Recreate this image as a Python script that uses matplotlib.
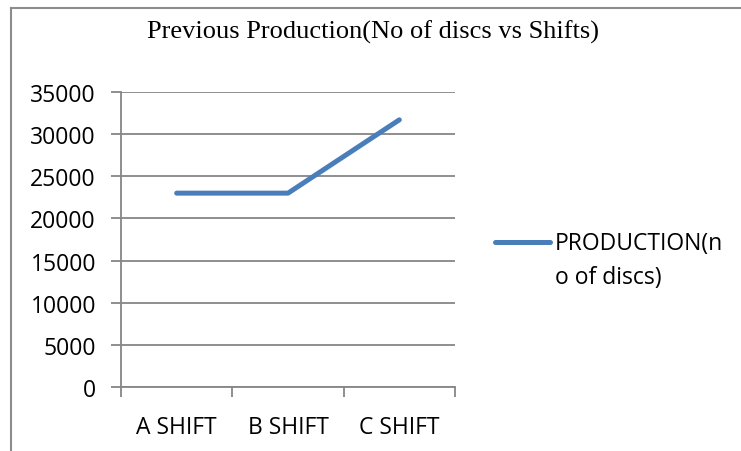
import matplotlib.pyplot as plt
from matplotlib.lines import Line2D

shifts = ['A SHIFT', 'B SHIFT', 'C SHIFT']
production = [23000, 23000, 31700]
series_name = 'PRODUCTION(n\no of discs)'
title = 'Previous Production(No of discs vs Shifts)'
yticks = [0, 5000, 10000, 15000, 20000, 25000, 30000, 35000]

W, H = 741, 452
fig = plt.figure(figsize=(W / 100, H / 100), dpi=100)
fig.patch.set_facecolor('white')

# plot area in pixel coords: x 121..455, y 93..388
ax = fig.add_axes([121 / W, 1 - 388 / H, (455 - 121) / W, (388 - 93) / H])
x = [0.5, 1.5, 2.5]
line, = ax.plot(x, production, color='#4a7ebb', lw=3.6, solid_capstyle='round',
                solid_joinstyle='round', zorder=3)
ax.set_xlim(0, 3)
ax.set_ylim(0, 35000)
ax.set_yticks(yticks)
ax.set_yticklabels([str(v) for v in yticks])
ax.set_xticks([0, 1, 2, 3])
ax.set_xticklabels([])
ax.set_xticks(x, minor=True)
ax.set_xticklabels(shifts, minor=True)
ax.tick_params(axis='x', which='minor', length=0, pad=20, labelsize=16.5)
ax.tick_params(axis='x', which='major', length=7, width=1.3, color='#868686', direction='out')
ax.tick_params(axis='y', length=7, width=1.3, color='#868686', direction='out', pad=11,
               labelsize=16.5)
for lbl in ax.get_xticklabels(minor=True) + ax.get_yticklabels():
    lbl.set_fontfamily('Open Sans')
ax.grid(axis='y', color='#868686', lw=1.3)
ax.set_axisbelow(True)
for s in ['top', 'right']:
    ax.spines[s].set_visible(False)
ax.spines['left'].set_color('#868686')
ax.spines['left'].set_linewidth(1.3)
ax.spines['bottom'].set_color('#868686')
ax.spines['bottom'].set_linewidth(1.3)

# legend drawn by hand to match the wrapped label
fig.add_artist(Line2D([495 / W, 550 / W], [1 - 243 / H, 1 - 243 / H], color='#4a7ebb',
                      lw=3.6, solid_capstyle='round'))
for i, part in enumerate(series_name.split('\n')):
    fig.text(555 / W, 1 - (250 + 34 * i) / H, part, ha='left', va='baseline',
             fontsize=16.5, family='Open Sans')

fig.text(373 / W, 1 - 32 / H, title, ha='center', va='center', fontsize=19,
         family='Liberation Serif')

# chart frame (left and top edges visible)
fig.add_artist(Line2D([11 / W, 11 / W], [0, 1 - 9 / H], color='#8c8c8c', lw=1.5))
fig.add_artist(Line2D([11 / W, 1], [1 - 9 / H, 1 - 9 / H], color='#8c8c8c', lw=1.5))

fig.savefig('out.png', dpi=100)
